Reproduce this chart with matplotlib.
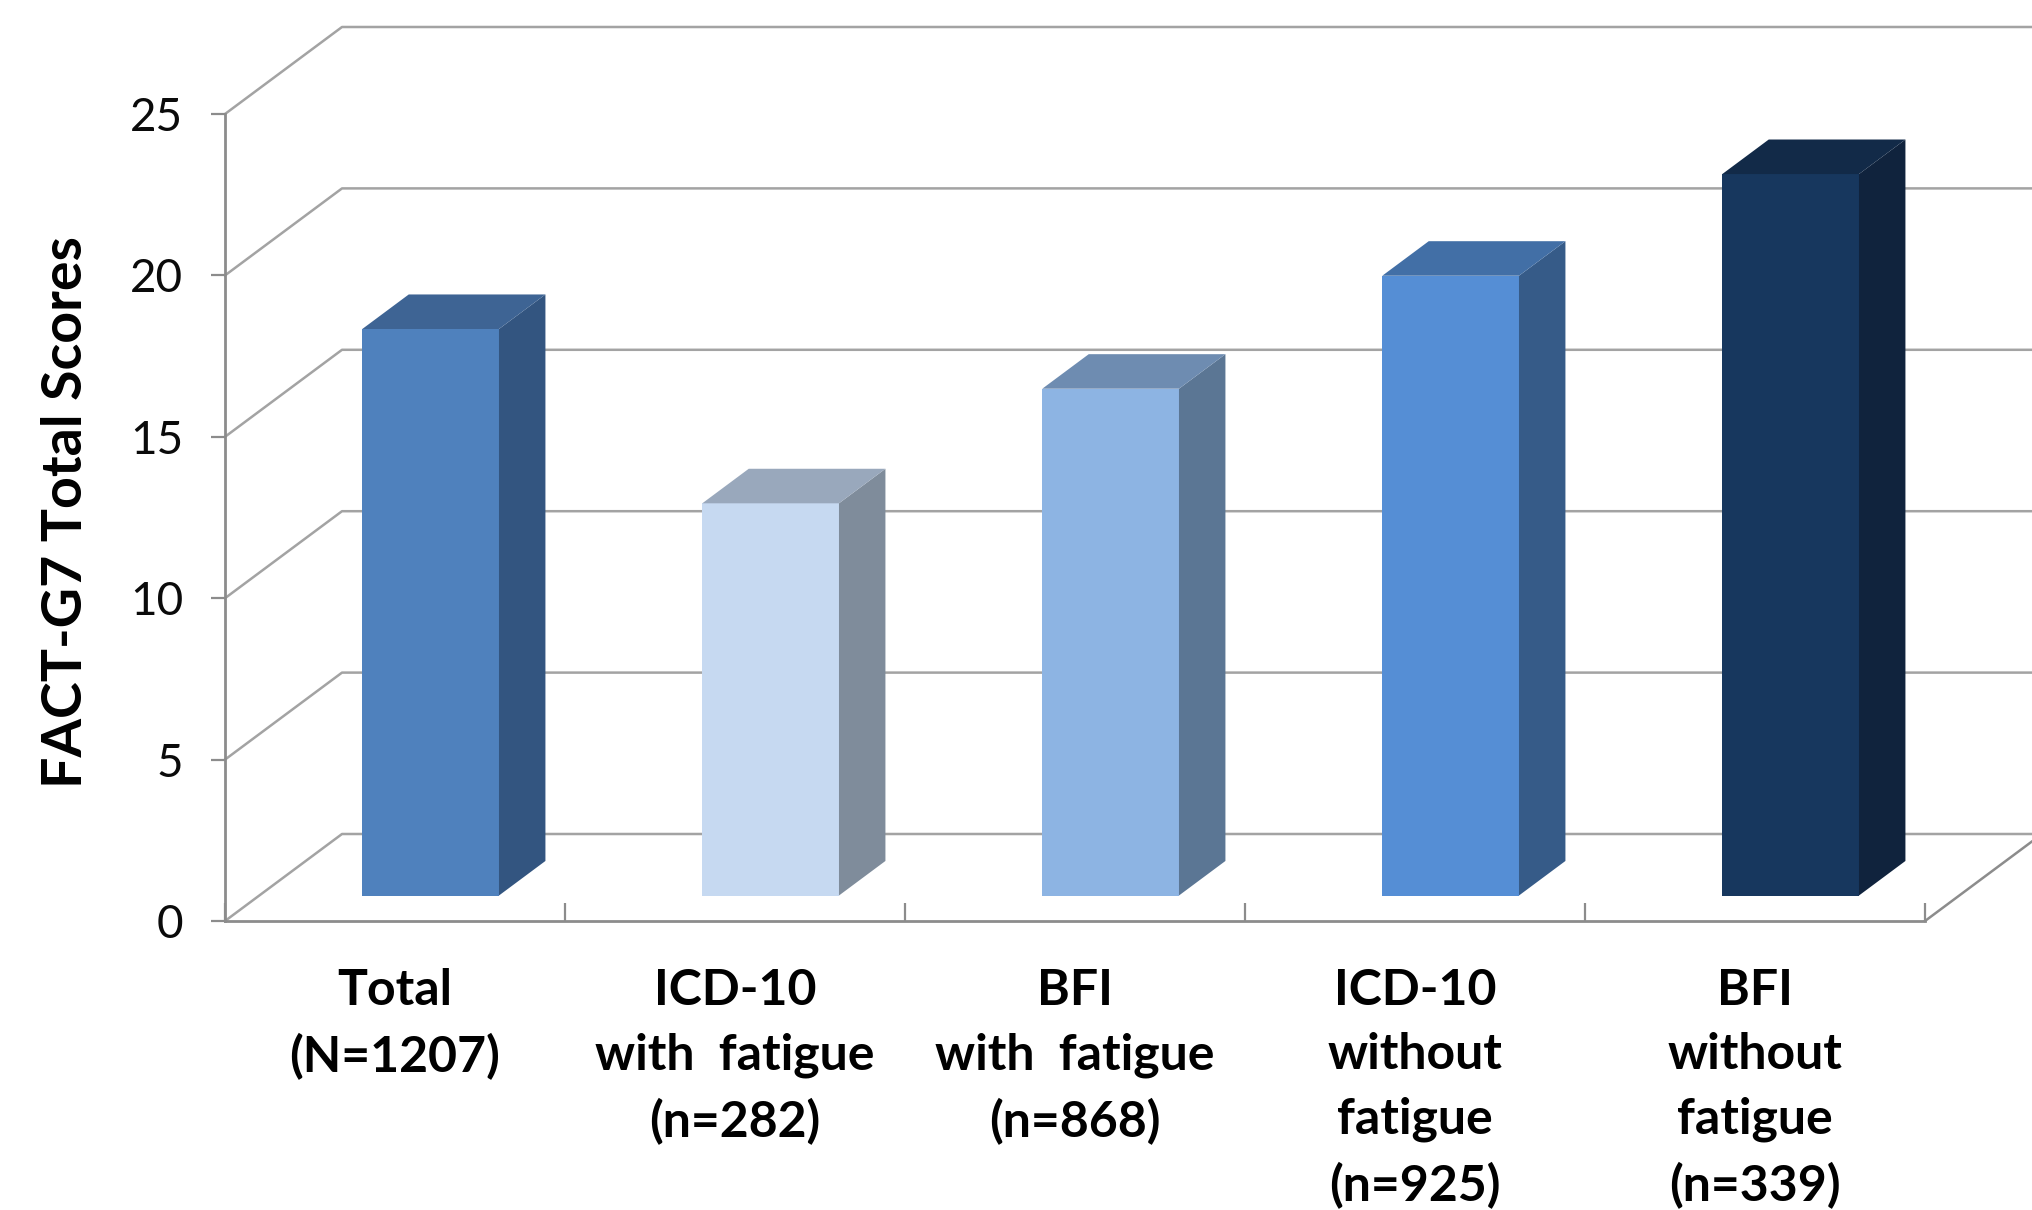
import matplotlib
matplotlib.use('Agg')
import matplotlib.pyplot as plt
import numpy as np

plt.rcParams['font.family'] = ['Lato', 'DejaVu Sans']

# values
categories = ['Total\n(N=1207)', 'ICD-10\nwith  fatigue\n(n=282)', 'BFI\nwith  fatigue\n(n=868)',
              'ICD-10\nwithout\nfatigue\n(n=925)', 'BFI\nwithout\nfatigue\n(n=339)']
scores = [17.55, 12.15, 15.7, 19.2, 22.35]
yTicks = [0, 5, 10, 15, 20, 25]

cFront = ['#4F81BD', '#C6D9F1', '#8DB4E3', '#558ED5', '#17375E']
cSide = ['#335580', '#7F8C9B', '#5B7694', '#365B88', '#10233D']
cTop = ['#3E6494', '#99A8BC', '#6E8CB1', '#426FA6', '#122A48']
cGrid = '#A3A3A3'
cAxis = '#8C8C8C'

# the oblique depth direction, in data units for depth=1
xDepth = 117/340.
yDepth = 87/32.28
barWidth = 0.402
barShift = 0.504
depthFront = 0.293
depthBack = 0.69


def pr(x, y, d):
    return x + d*xDepth, y + d*yDepth


fig = plt.figure(figsize=(20.32, 12.10), dpi=100)
ax = fig.add_axes([225/2032., (1210-921)/1210., 1700/2032., 807/1210.])
ax.set_xlim(0, 5)
ax.set_ylim(0, 25)
ax.set_facecolor('none')

# walls
xEnd = 5 + xDepth
for y in yTicks:
    xb, yb = pr(0, y, 1)
    ax.plot([0, xb, xEnd], [y, yb, yb], color=cGrid, lw=1.8, clip_on=False, zorder=1)
xb, yb = pr(5, 0, 1)
ax.plot([5, xb], [0, yb], color=cAxis, lw=1.8, clip_on=False, zorder=1)

# bars
for i, val in enumerate(scores):
    xl = i + barShift - barWidth/2
    xr = i + barShift + barWidth/2
    x0, y0 = pr(xl, 0, depthFront)
    x1, y1 = pr(xr, val, depthFront)
    x2, y2 = pr(xl, val, depthBack)
    x3, y3 = pr(xr, val, depthBack)
    y4 = pr(xr, 0, depthBack)[1]
    ax.fill([x0, x1, x1, x0], [y0, y0, y1, y1], color=cFront[i], lw=0, zorder=3, clip_on=False)
    ax.fill([x1, x3, x3, x1], [y0, y4, y3, y1], color=cSide[i], lw=0, zorder=3, clip_on=False)
    ax.fill([x0, x2, x3, x1], [y1, y2, y3, y1], color=cTop[i], lw=0, zorder=3, clip_on=False)

for side in ['top', 'right']:
    ax.spines[side].set_visible(False)
for side in ['left', 'bottom']:
    ax.spines[side].set_color(cAxis)
    ax.spines[side].set_linewidth(2.0)

ax.set_yticks(yTicks)
ax.tick_params(axis='y', length=10, width=1.6, color=cAxis, labelsize=33, pad=20, labelcolor='#0A0A0A')
ax.set_xticks(np.arange(6))
ax.tick_params(axis='x', which='major', direction='in', length=13, width=1.6, color=cAxis, labelbottom=False)
ax.set_xticks(np.arange(5) + 0.5, categories, minor=True)
ax.tick_params(axis='x', which='minor', length=0, labelsize=36, pad=34)
for lab in ax.get_xticklabels(minor=True):
    lab.set_fontweight('bold')
    lab.set_linespacing(1.52)

fig.text(66/2032., 1 - 512/1210., 'FACT-G7 Total Scores', rotation=90, fontsize=40, fontweight='bold',
         ha='center', va='center')

fig.savefig('out.png', dpi=100)
